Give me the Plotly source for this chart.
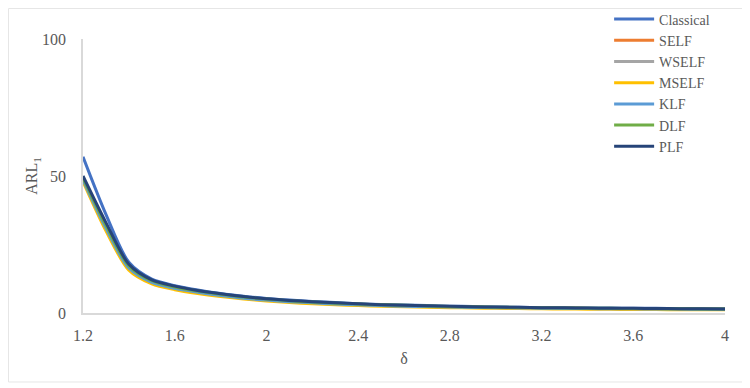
import plotly.graph_objects as go

delta = [1.2, 1.3, 1.4, 1.5, 1.6, 1.7, 1.8, 1.9, 2.0, 2.1, 2.2, 2.3, 2.4, 2.5, 2.6,
         2.7, 2.8, 2.9, 3.0, 3.1, 3.2, 3.3, 3.4, 3.5, 3.6, 3.7, 3.8, 3.9, 4.0]

classical = [57.0, 36.0, 18.5, 12.4, 10.0, 8.4, 7.1, 6.1, 5.3, 4.7, 4.2, 3.8, 3.4, 3.1, 2.9,
             2.7, 2.5, 2.35, 2.2, 2.1, 2.0, 1.9, 1.85, 1.8, 1.75, 1.7, 1.65, 1.6, 1.55]
self_ = [49.0, 31.5, 16.8, 11.5, 9.3, 7.8, 6.6, 5.6, 4.9, 4.3, 3.8, 3.4, 3.1, 2.8, 2.6,
         2.4, 2.25, 2.1, 2.0, 1.9, 1.8, 1.72, 1.66, 1.6, 1.55, 1.5, 1.46, 1.42, 1.38]
wself = [49.2, 31.8, 17.0, 11.6, 9.4, 7.9, 6.7, 5.7, 5.0, 4.4, 3.9, 3.5, 3.2, 2.9, 2.7,
         2.5, 2.3, 2.15, 2.05, 1.95, 1.85, 1.77, 1.7, 1.64, 1.58, 1.53, 1.49, 1.45, 1.41]
mself = [48.0, 30.0, 15.6, 10.6, 8.5, 7.1, 6.0, 5.1, 4.4, 3.8, 3.35, 3.0, 2.7, 2.45, 2.25,
         2.1, 1.95, 1.82, 1.72, 1.62, 1.54, 1.46, 1.4, 1.34, 1.29, 1.25, 1.21, 1.18, 1.15]
klf = [48.6, 31.0, 16.4, 11.2, 9.0, 7.6, 6.4, 5.4, 4.7, 4.15, 3.7, 3.3, 3.0, 2.7, 2.5,
       2.33, 2.18, 2.05, 1.94, 1.84, 1.75, 1.68, 1.62, 1.56, 1.51, 1.47, 1.43, 1.39, 1.35]
dlf = [49.3, 32.0, 17.2, 11.8, 9.5, 8.0, 6.8, 5.8, 5.1, 4.5, 4.0, 3.6, 3.3, 3.0, 2.8,
       2.6, 2.4, 2.25, 2.12, 2.02, 1.92, 1.84, 1.77, 1.71, 1.65, 1.6, 1.55, 1.5, 1.46]
plf = [50.0, 33.0, 17.8, 12.1, 9.8, 8.2, 7.0, 6.0, 5.2, 4.6, 4.1, 3.7, 3.35, 3.05, 2.85,
       2.65, 2.45, 2.3, 2.17, 2.06, 1.96, 1.88, 1.81, 1.75, 1.69, 1.64, 1.59, 1.54, 1.5]

names = ["Classical", "SELF", "WSELF", "MSELF", "KLF", "DLF", "PLF"]
series = [classical, self_, wself, mself, klf, dlf, plf]
colors = ["#4472C4", "#ED7D31", "#A5A5A5", "#FFC000", "#5B9BD5", "#70AD47", "#264478"]

x_ticks = [1.2, 1.6, 2.0, 2.4, 2.8, 3.2, 3.6, 4.0]
x_ticklabels = ["1.2", "1.6", "2", "2.4", "2.8", "3.2", "3.6", "4"]
y_ticks = [0, 50, 100]

fig = go.Figure()
for n, s, c in zip(names, series, colors):
    fig.add_trace(go.Scatter(x=delta, y=s, mode="lines", name=n,
                             line=dict(color=c, width=3, shape="spline", smoothing=0.8)))

font_fam = "Liberation Serif"
fig.update_layout(
    width=742, height=380,
    margin=dict(l=75, r=25, t=31, b=75, autoexpand=False),
    paper_bgcolor="white", plot_bgcolor="white",
    font=dict(family=font_fam, size=16, color="#595959"),
    showlegend=True,
    legend=dict(x=0.8195, y=1.1296, xanchor="left", yanchor="top",
                bgcolor="rgba(0,0,0,0)", font=dict(family=font_fam, size=14, color="#595959"),
                tracegroupgap=0, itemwidth=40),
    xaxis=dict(range=[1.2, 4.0], tickvals=x_ticks, ticktext=x_ticklabels,
               showgrid=False, zeroline=False, showline=True, linecolor="#D9D9D9",
               linewidth=1.5, ticks="", ticklabelstandoff=7,
               title=dict(text="δ", standoff=10, font=dict(size=16)),
               tickfont=dict(size=16, color="#595959")),
    yaxis=dict(range=[0, 100], tickvals=y_ticks, showgrid=False, zeroline=False,
               showline=True, linecolor="#D9D9D9", linewidth=1.5, ticks="",
               ticklabelstandoff=12,
               title=dict(text="ARL<sub>1</sub>", standoff=0, font=dict(size=16)),
               tickfont=dict(size=16, color="#595959")),
    shapes=[dict(type="rect", xref="paper", yref="paper",
                 x0=-0.1160, x1=1.0312, y0=-0.2518, y1=1.1113,
                 line=dict(color="#E6E6E6", width=1), fillcolor="rgba(0,0,0,0)")],
)

fig.write_html("out.html")
